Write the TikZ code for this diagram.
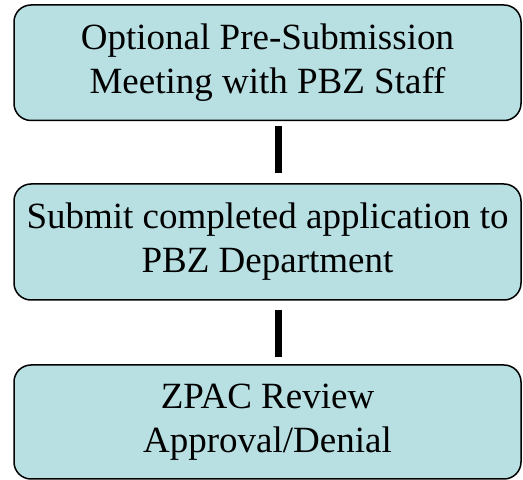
\documentclass[tikz,border=0pt]{standalone}
\usepackage{fontspec}
\setmainfont{Liberation Serif}
\begin{document}
\begin{tikzpicture}[x=1pt,y=1pt,
  stepbox/.style={draw=black, line width=1.5pt, fill=boxfill, rounded corners=17pt,
    minimum width=507pt, inner sep=0pt, align=center,
    font=\fontsize{37}{44}\selectfont},
  link/.style={line width=6.5pt, draw=black}]
\definecolor{boxfill}{HTML}{B8E0E3}
\useasboundingbox (0,0) rectangle (523,480);
\node[stepbox, minimum height=115.5pt] (b1) at (267.5,417.25) {Optional Pre-Submission\\Meeting with PBZ Staff};
\node[stepbox, minimum height=116pt] (b2) at (267.5,238) {Submit completed application to\\PBZ Department};
\node[stepbox, minimum height=114pt] (b3) at (267.5,58) {ZPAC Review\\Approval/Denial};
\coordinate (lx) at (278.5,0);
\draw[link, shorten <=5pt, shorten >=10pt] (b1.south -| lx) -- (b2.north -| lx);
\draw[link, shorten <=9pt, shorten >=7pt] (b2.south -| lx) -- (b3.north -| lx);
\end{tikzpicture}
\end{document}
